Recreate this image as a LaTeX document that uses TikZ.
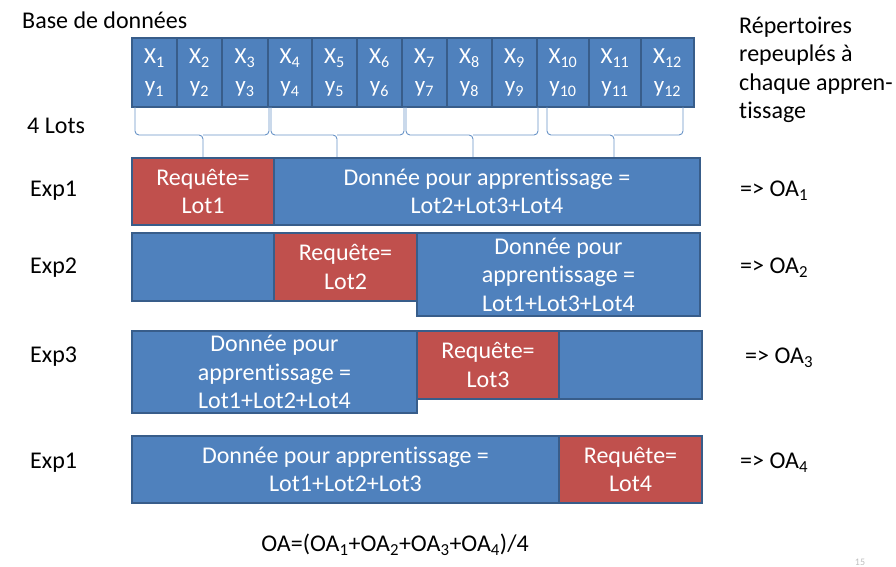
\documentclass[tikz,border=0pt]{standalone}
\usepackage{fontspec}
\setmainfont{Carlito}[Ligatures=NoCommon]
\definecolor{blueF}{HTML}{4F81BD}
\definecolor{blueD}{HTML}{385D8A}
\definecolor{redF}{HTML}{C0504D}
\newcommand\mkbox[7]{\node[#6, anchor=north west, minimum width={#4pt-#2pt}, minimum height={#5pt-#3pt}] (#1) at (#2,#3) {#7};}
\begin{document}
\begin{tikzpicture}[x=1pt,y=-1pt,
 cell/.style={draw=blueD, fill=blueF, line width=2pt, inner sep=0pt, text=white, align=center, font=\fontsize{23}{29}\selectfont},
 bbox/.style={draw=blueD, fill=blueF, line width=2pt, inner sep=0pt, text=white, align=center, font=\fontsize{24}{28.5}\selectfont},
 rbox/.style={bbox, fill=redF},
 lbl/.style={font=\fontsize{24}{28.5}\selectfont, inner sep=0pt},
 brc/.style={draw=blueF!85, line width=0.9pt, rounded corners=4pt}]
\useasboundingbox (0,0) rectangle (896,567);

% top cells
\foreach \a/\b/\n in {131/176/1,176/221/2,221/267/3,267/311/4,311/356/5,356/401/6,401/446/7,446/491/8,491/536/9,536/588/10,588/640/11,640/693/12}{
  \mkbox{c\n}{\a}{37}{\b}{106}{cell}{X\textsubscript{\n}\\y\textsubscript{\n}}
}

% braces
\foreach \a/\b/\c in {135/269/203,271/404/337,406/538/473,547/683/614}{
  \draw[brc] (\a,107) -- (\a,135) -- (\c,135) -- (\c,157);
  \draw[brc] (\b,107) -- (\b,135) -- (\c,135);
}

% Exp1
\mkbox{e1r}{131}{157}{273}{224}{rbox}{Requête=\\Lot1}
\mkbox{e1b}{273}{157}{699}{224}{bbox}{Donnée pour apprentissage =\\Lot2+Lot3+Lot4}
% Exp2
\mkbox{e2a}{131}{232}{273}{300}{bbox}{}
\mkbox{e2c}{416}{232}{699}{315}{bbox}{Donnée pour\\apprentissage =\\Lot1+Lot3+Lot4}
\mkbox{e2r}{273}{232}{416}{300}{rbox}{Requête=\\Lot2}
% Exp3
\mkbox{e3a}{131}{330}{416}{412}{bbox}{Donnée pour\\apprentissage =\\Lot1+Lot2+Lot4}
\mkbox{e3r}{416}{330}{558}{398}{rbox}{Requête=\\Lot3}
\mkbox{e3c}{558}{330}{701}{398}{bbox}{}
% Exp4
\mkbox{e4b}{131}{435}{558}{502}{bbox}{Donnée pour apprentissage =\\Lot1+Lot2+Lot3}
\mkbox{e4r}{558}{435}{701}{502}{rbox}{Requête=\\Lot4}

% labels
\node[lbl, anchor=west] (base) at (22,20) {Base de données};
\node[lbl, anchor=west] (lots) at (27,126) {4 Lots};
\node[lbl, anchor=west] (x1) at (30,191) {Exp1};
\node[lbl, anchor=west] (x2) at (30,268) {Exp2};
\node[lbl, anchor=west] (x3) at (30,357) {Exp3};
\node[lbl, anchor=west] (x4) at (30,463) {Exp1};

\node[lbl, anchor=base west, align=left] (rep) at (739,119) {Répertoires\\repeuplés à\\chaque appren-\\tissage};

\node[lbl, anchor=west] (oa1) at (740,191) {=> OA\textsubscript{1}};
\node[lbl, anchor=west] (oa2) at (740,268) {=> OA\textsubscript{2}};
\node[lbl, anchor=west] (oa3) at (745,358) {=> OA\textsubscript{3}};
\node[lbl, anchor=west] (oa4) at (740,463) {=> OA\textsubscript{4}};

\node[lbl] (form) at (395,545) {OA=(OA\textsubscript{1}+OA\textsubscript{2}+OA\textsubscript{3}+OA\textsubscript{4})/4};
\node[text=black!25, font=\fontsize{10}{10}\selectfont, inner sep=0pt, anchor=base] (pg) at (860,565) {15};
\end{tikzpicture}
\end{document}
